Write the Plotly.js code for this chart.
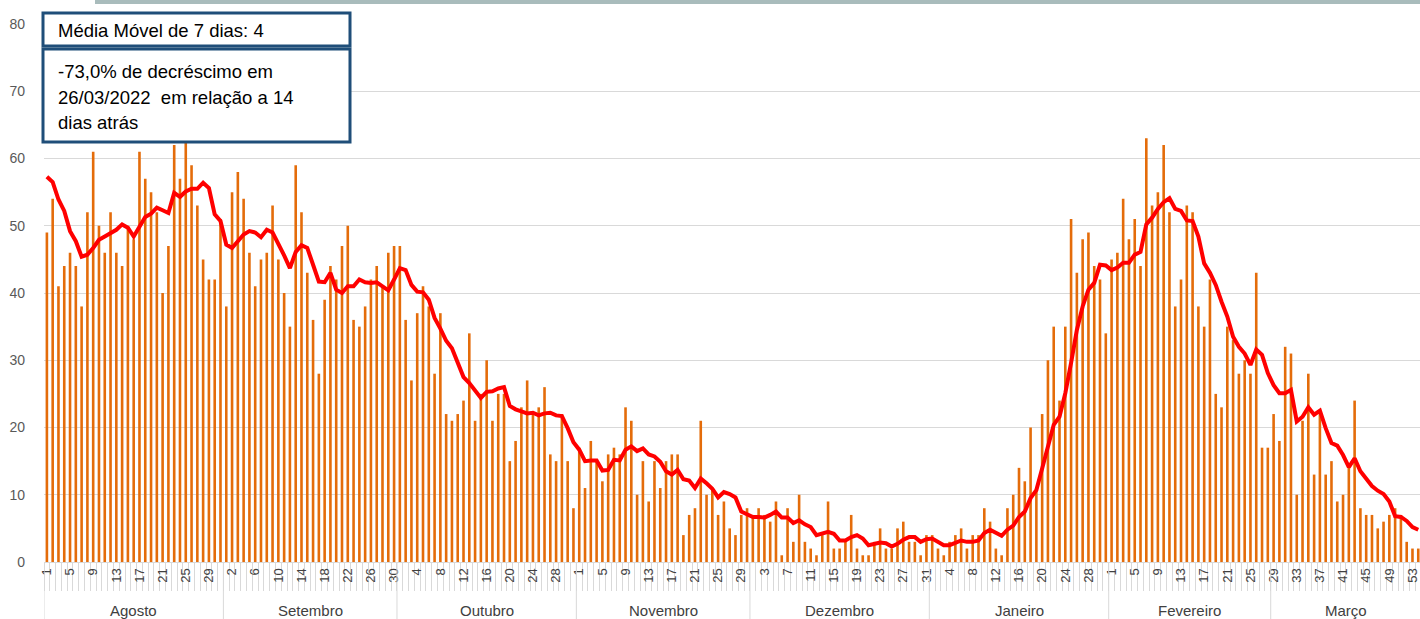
<!DOCTYPE html>
<html>
<head>
<meta charset="utf-8">
<script src="https://cdn.plot.ly/plotly-3.0.1.min.js"></script>
<style>html,body{margin:0;padding:0;background:#fff;overflow:hidden}</style>
</head>
<body>
<div id="chart"></div>
<script>
// ---- Data ----
const monthNames = ["Agosto","Setembro","Outubro","Novembro","Dezembro","Janeiro","Fevereiro","Março"];
const monthDays  = [31, 30, 31, 30, 31, 31, 28, 26];
const marchLabelStart = 29; // the source labels March days as 29, 30, ... 54

const dailyCases = [
  49,54,41,44,46,44,38,52,61,50,
  46,52,46,44,50,48,61,57,55,52,
  40,47,62,57,63,59,53,45,42,42,
  51,38,55,58,54,46,41,45,46,53,
  45,40,35,59,52,43,36,28,39,44,
  42,47,50,36,35,38,42,44,41,46,
  47,47,36,27,37,41,38,28,37,22,
  21,22,24,34,21,25,30,21,25,25,
  15,18,23,27,22,23,26,16,15,22,
  15,8,17,11,18,15,12,16,17,16,
  23,21,10,15,9,15,11,15,16,16,
  4,7,8,21,10,11,7,9,5,4,
  7,8,7,8,7,6,9,1,8,3,
  10,3,2,1,4,9,2,2,3,7,
  2,1,1,3,5,2,2,5,6,3,
  3,1,4,4,2,1,3,4,5,2,
  4,4,8,6,2,1,8,10,14,12,
  20,11,22,30,35,24,35,51,43,48,
  49,44,42,34,45,46,54,48,51,44,
  63,53,55,62,52,38,42,53,52,38,
  35,42,25,23,35,33,28,30,28,43,
  17,17,22,18,32,31,10,21,28,13,
  22,13,15,9,10,14,24,8,7,7,
  5,6,7,8,7,3,2,2
];

const movingAvg7 = [
  57.3,56.5,53.9,52.2,49.2,47.7,45.4,45.7,46.7,47.9,
  48.4,48.9,49.4,50.2,49.7,48.4,49.9,51.3,51.8,52.7,
  52.3,51.9,54.9,54.3,55.1,55.5,55.5,56.4,55.6,51.7,
  50.7,47.2,46.7,47.7,48.7,49.2,49.0,48.3,49.4,49.0,
  47.4,45.6,43.7,46.1,47.1,46.7,44.2,41.7,41.6,43.0,
  40.5,40.0,41.0,41.0,42.0,41.6,41.5,41.6,41.0,40.4,
  42.0,43.7,43.4,41.2,40.2,40.1,39.0,36.3,34.7,32.9,
  31.8,29.8,27.5,26.6,25.6,24.4,25.3,25.4,25.8,26.0,
  23.2,22.7,22.4,22.1,22.2,21.8,22.1,22.2,21.8,21.7,
  19.9,17.8,16.7,15.0,15.1,15.1,13.6,13.7,15.2,15.1,
  16.7,17.2,16.5,16.9,16.0,15.7,14.9,13.5,13.0,13.7,
  12.3,12.1,11.0,12.4,11.7,10.9,9.6,10.4,10.1,9.6,
  7.5,7.1,6.7,6.7,6.6,7.0,7.5,6.6,6.6,5.8,
  6.2,5.6,5.2,4.0,4.3,4.5,4.2,3.2,3.2,3.7,
  4.0,3.5,2.5,2.7,2.9,2.8,2.3,2.7,3.3,3.7,
  3.7,3.0,3.4,3.5,3.0,2.5,2.5,2.8,3.2,3.0,
  3.0,3.2,4.3,4.8,4.3,3.9,4.8,5.4,6.7,7.5,
  9.5,10.7,13.9,17.2,20.4,21.6,25.1,29.6,34.5,38.0,
  40.5,41.5,44.2,44.1,43.4,43.8,44.5,44.5,45.7,46.1,
  50.2,51.2,52.5,53.5,54.1,52.5,52.2,50.8,50.7,48.4,
  44.4,43.0,41.2,38.7,36.5,33.5,32.0,31.0,29.3,31.6,
  30.8,28.1,26.3,25.1,25.1,25.6,20.9,21.6,23.0,21.9,
  22.5,19.9,17.7,17.3,15.9,14.1,15.4,13.5,12.5,11.3,
  10.6,10.1,9.0,6.8,6.7,6.1,5.2,4.8
];

const yTicks = [0,10,20,30,40,50,60,70,80];
const infoTitle = "Média Móvel de 7 dias: 4";
const infoLines = ["-73,0% de decréscimo em", "26/03/2022&nbsp; em relação a 14", "dias atrás"];

// ---- Build axis helpers from the data ----
const dayLabels = [];
const monthStart = [];
monthDays.forEach((n, m) => {
  monthStart.push(dayLabels.length);
  const first = (m === monthDays.length - 1) ? marchLabelStart : 1;
  for (let d = 0; d < n; d++) dayLabels.push(String(first + d));
});
const xIdx = dayLabels.map((_, i) => i);
const tickVals = xIdx.filter(i => i % 4 === 0);
const tickText = tickVals.map(i => dayLabels[i]);

// pixel helpers for plot area (l=44, t=24, w=1376, h=538)
const L = 44, T = 24, W = 1376, H = 538;
const px = x => (x - L) / W;
const py = y => (T + H - y) / H;

const FONT = 'Liberation Sans, Arial, sans-serif';

const shapes = [];
monthStart.forEach(s => {
  shapes.push({type:'line', xref:'x', yref:'paper', x0:s-0.5, x1:s-0.5, y0:0, y1:py(619),
               line:{color:'#D9D9D9', width:1}});
});
// top decorative strip
shapes.push({type:'rect', xref:'paper', yref:'paper', x0:px(95), x1:px(1420), y0:py(0), y1:py(4),
             line:{width:0}, fillcolor:'#A9BCBC'});
// info boxes
shapes.push({type:'rect', xref:'paper', yref:'paper', x0:px(43), x1:px(350), y0:py(13), y1:py(46),
             line:{color:'#1F4E79', width:3}, fillcolor:'#FFFFFF'});
shapes.push({type:'rect', xref:'paper', yref:'paper', x0:px(43), x1:px(350), y0:py(49), y1:py(142),
             line:{color:'#1F4E79', width:3}, fillcolor:'#FFFFFF'});

const annotations = [];
monthNames.forEach((name, m) => {
  const s = monthStart[m], e = s + monthDays[m] - 1;
  annotations.push({xref:'x', yref:'paper', x:(s+e)/2, y:py(610), text:name, showarrow:false,
                    xanchor:'center', yanchor:'middle',
                    font:{family:FONT, size:15, color:'#404040'}});
});
annotations.push({xref:'paper', yref:'paper', x:px(56), y:py(30), text:infoTitle, showarrow:false,
                  xanchor:'left', yanchor:'middle',
                  font:{family:FONT, size:18.5, color:'#000'}});
const lineY = [71, 97, 122];
infoLines.forEach((t, k) => {
  annotations.push({xref:'paper', yref:'paper', x:px(56), y:py(lineY[k]), text:t, showarrow:false,
                    xanchor:'left', yanchor:'middle',
                    font:{family:FONT, size:18.5, color:'#000'}});
});

const traces = [
  {type:'bar', x:xIdx, y:dailyCases, marker:{color:'#E46C0A', line:{width:0}}, hoverinfo:'skip'},
  {type:'scatter', mode:'lines', x:xIdx, y:movingAvg7, line:{color:'#FF0000', width:4}, hoverinfo:'skip'}
];

const layout = {
  width:1420, height:619,
  margin:{l:L, r:0, t:T, b:619 - T - H, pad:0},
  paper_bgcolor:'#FFFFFF', plot_bgcolor:'#FFFFFF',
  showlegend:false, bargap:0.55,
  xaxis:{
    range:[-0.5, 237.3], showgrid:false, zeroline:false,
    tickmode:'array', tickvals:tickVals, ticktext:tickText, tickangle:-90,
    ticklabeloverflow:'allow',
    ticks:'', showline:true, linecolor:'#D9D9D9', linewidth:1,
    tickfont:{family:FONT, size:13, color:'#404040'},
    minor:{tickmode:'linear', tick0:0.5, dtick:1, ticks:'outside', ticklen:28,
           tickcolor:'#D9D9D9', tickwidth:1, showgrid:false}
  },
  yaxis:{
    range:[0, 80], tickmode:'array', tickvals:yTicks, showgrid:true, gridcolor:'#D9D9D9',
    gridwidth:1, zeroline:false, showline:false, ticks:'', ticklabelstandoff:18,
    tickfont:{family:FONT, size:14, color:'#595959'}
  },
  shapes:shapes, annotations:annotations
};

Plotly.newPlot('chart', traces, layout, {displayModeBar:false, staticPlot:true});
</script>
</body>
</html>
